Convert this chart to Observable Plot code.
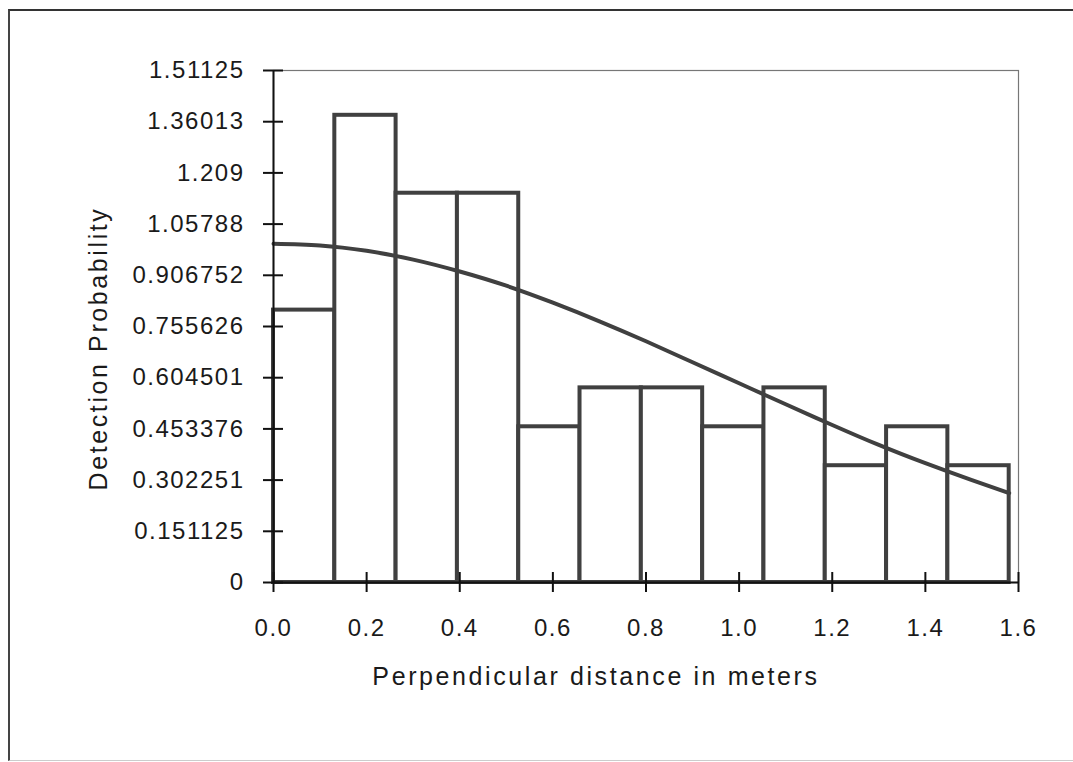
<!DOCTYPE html>
<html>
<head>
<meta charset="utf-8">
<script src="https://cdn.jsdelivr.net/npm/d3@7"></script>
<script src="https://cdn.jsdelivr.net/npm/@observablehq/plot@0.6"></script>
<style>
  html, body { margin: 0; padding: 0; background: #fff; overflow: hidden; }
  #wrap { position: relative; width: 1073px; height: 762px; }
  #border { position: absolute; left: 8px; top: 9px; width: 1100px; height: 749px;
            border-top: 2px solid #333; border-left: 2px solid #444; border-bottom: 1px solid #ccc; pointer-events: none; }
  #chart { position: absolute; left: 0; top: 0; }
  .tick-lbl text { letter-spacing: 1.5px; }
  .ttl text { letter-spacing: 2.6px; }
</style>
</head>
<body>
<div id="wrap"><div id="chart"></div><div id="border"></div></div>
<script>
// Histogram bins (bin edges, metres) and bar heights (detection probability)
const binEdges = [0, 0.1317, 0.2633, 0.395, 0.5267, 0.6583, 0.79, 0.9217, 1.0533, 1.185, 1.3167, 1.4483, 1.58];
const barHeights = [0.804, 1.379, 1.149, 1.149, 0.4596, 0.5745, 0.5745, 0.4596, 0.5745, 0.3447, 0.4596, 0.3447];

// Fitted detection curve
const curveX = [0, 0.1, 0.2, 0.3, 0.4, 0.5, 0.6, 0.7, 0.8, 0.9, 1.0, 1.1, 1.2, 1.3, 1.4, 1.5, 1.58];
const curveY = [1.0, 0.995, 0.979, 0.953, 0.918, 0.876, 0.826, 0.771, 0.712, 0.65, 0.588, 0.526, 0.465, 0.406, 0.352, 0.302, 0.264];

// Axis ticks
const yTicks = [0, 0.151125, 0.302251, 0.453376, 0.604501, 0.755626, 0.906752, 1.05788, 1.209, 1.36013, 1.51125];
const yTickLabels = ["0", "0.151125", "0.302251", "0.453376", "0.604501", "0.755626", "0.906752", "1.05788", "1.209", "1.36013", "1.51125"];
const xTicks = [0, 0.2, 0.4, 0.6, 0.8, 1.0, 1.2, 1.4, 1.6];
const xTickLabels = ["0.0", "0.2", "0.4", "0.6", "0.8", "1.0", "1.2", "1.4", "1.6"];

const xTitle = "Perpendicular distance in meters";
const yTitle = "Detection Probability";

const bars = barHeights.map((h, i) => ({x1: binEdges[i], x2: binEdges[i + 1], y: h}));
const curve = curveX.map((x, i) => ({x, y: curveY[i]}));

const barColor = "#404040";
const font = "'Liberation Sans', Arial, sans-serif";

const chart = Plot.plot({
  width: 1073,
  height: 762,
  marginLeft: 273,
  marginRight: 55,
  marginTop: 70,
  marginBottom: 180,
  style: {fontFamily: font, fontSize: "24px", color: "#1a1a1a", background: "transparent"},
  x: {domain: [0, 1.6], label: null},
  y: {domain: [0, 1.51125], label: null},
  marks: [
    Plot.frame({stroke: "#777", strokeWidth: 1.2}),
    Plot.rectY(bars, {x1: "x1", x2: "x2", y: "y", fill: "white", stroke: barColor, strokeWidth: 4}),
    Plot.line(curve, {x: "x", y: "y", stroke: barColor, strokeWidth: 4, curve: "natural"}),
    Plot.ruleY([0], {stroke: "#111", strokeWidth: 2}),
    Plot.ruleX([0], {stroke: "#111", strokeWidth: 2}),
    Plot.axisY({
      ticks: yTicks, tickFormat: (d, i) => yTickLabels[i], tickSize: 20, dx: 10,
      tickPadding: 19, stroke: "#111", strokeWidth: 2, fill: "#1a1a1a", label: null,
      fontSize: 24, className: "tick-lbl"
    }),
    Plot.axisX({
      ticks: xTicks, tickFormat: (d, i) => xTickLabels[i], tickSize: 20, dy: -10,
      tickPadding: 26, stroke: "#111", strokeWidth: 2, fill: "#1a1a1a", label: null,
      fontSize: 24, className: "tick-lbl"
    }),
    Plot.text([xTitle], {
      text: d => d, frameAnchor: "bottom", textAnchor: "middle", dx: -50, dy: 102,
      fontSize: 25, fill: "#1a1a1a", fontFamily: font, className: "ttl"
    }),
    Plot.text([yTitle], {
      text: d => d, frameAnchor: "left", textAnchor: "middle", rotate: -90, dx: -175, dy: 22,
      fontSize: 25, fill: "#1a1a1a", fontFamily: font, className: "ttl"
    })
  ]
});
document.getElementById("chart").appendChild(chart);
</script>
</body>
</html>
